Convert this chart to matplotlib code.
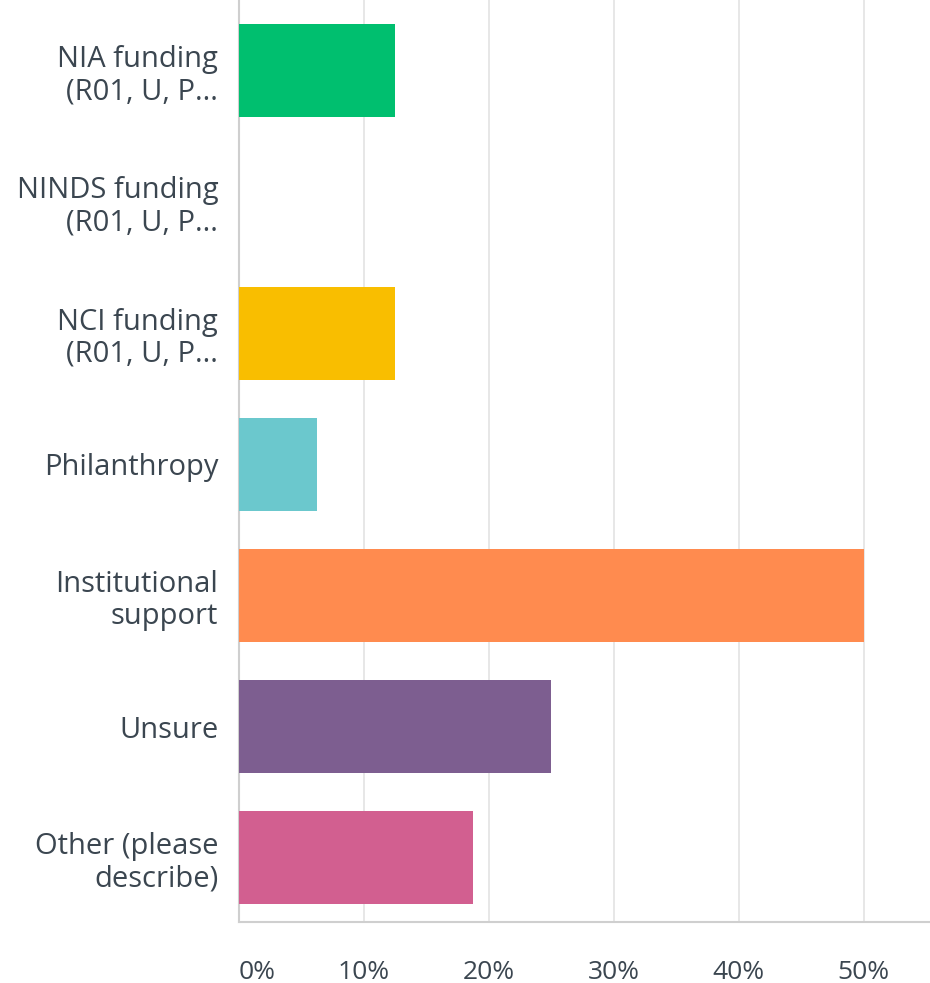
import matplotlib.pyplot as plt
import numpy as np

plt.rcParams['font.family'] = ['Open Sans', 'DejaVu Sans']

# answer choices and share of respondents (%)
choices = ['NIA funding\n(R01, U, P...', 'NINDS funding\n(R01, U, P...', 'NCI funding\n(R01, U, P...',
           'Philanthropy', 'Institutional\nsupport', 'Unsure', 'Other (please\ndescribe)']
percents = [12.5, 0.0, 12.5, 6.25, 50.0, 25.0, 18.75]
colors = ['#00bf6f', '#507cb6', '#f9be00', '#6bc8cd', '#ff8b4f', '#7d5e90', '#d25f90']
xticks = [0, 10, 20, 30, 40, 50]

fig = plt.figure(figsize=(9.3, 9.83), dpi=100)
ax = fig.add_axes([0.257, 0.062, 0.743, 0.938])

y = np.arange(len(choices))
ax.barh(y, percents, height=0.71, color=colors, zorder=3)

ax.set_xlim(0, 55.3)
ax.set_ylim(len(choices) - 0.51, -0.54)
ax.set_yticks(y)
ax.set_yticklabels(choices, fontsize=21, color='#3b4650', linespacing=1.15)
ax.set_xticks(xticks)
ax.set_xticklabels([f'{t}%' for t in xticks], fontsize=19, color='#3b4650')
ax.get_xticklabels()[0].set_horizontalalignment('left')

ax.tick_params(axis='both', length=0)
ax.tick_params(axis='y', pad=15)
ax.tick_params(axis='x', pad=27)
ax.grid(axis='x', color='#e3e3e3', linewidth=1.2, zorder=0)
for s in ['top', 'right']:
    ax.spines[s].set_visible(False)
for s in ['left', 'bottom']:
    ax.spines[s].set_color('#cfcfcf')
    ax.spines[s].set_linewidth(1.5)

fig.savefig('out.png', dpi=100)
